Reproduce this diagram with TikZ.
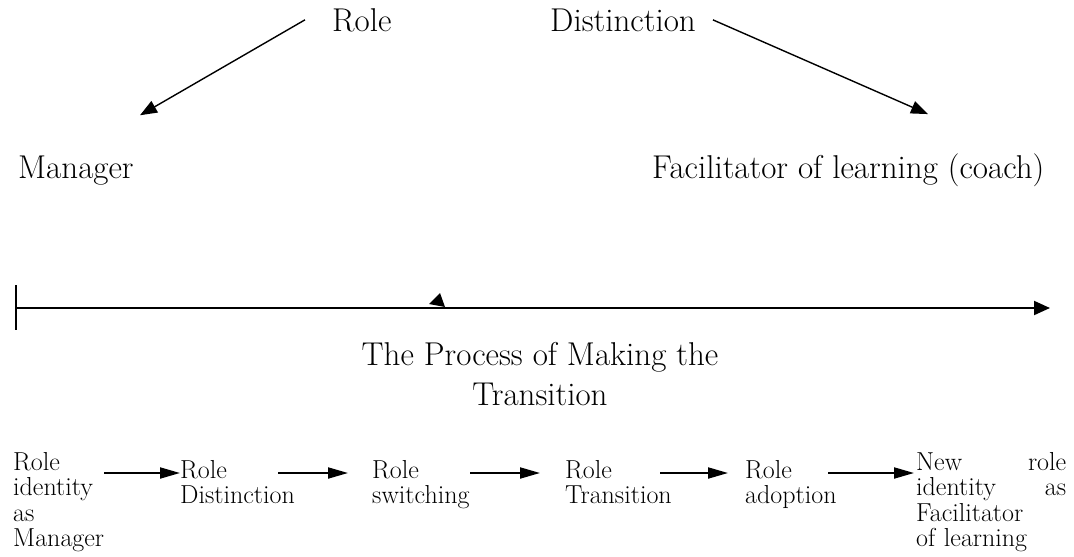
\documentclass[tikz,border=0pt]{standalone}
\usepackage{fontspec}
\usetikzlibrary{arrows.meta}

\begin{document}
\begin{tikzpicture}[x=1pt,y=-1pt]
    \tikzstyle{heading}=[inner sep=0pt,font=\fontsize{33}{40}\selectfont]
    \tikzstyle{stage}=[inner sep=0pt,align=left,anchor=north west,font=\fontsize{26}{25.5}\selectfont]
    \tikzstyle{split}=[draw,line width=1.4pt,-{Triangle[length=17pt,width=13pt]}]
    \tikzstyle{axis}=[draw,line width=2pt,-{Triangle[length=16pt,width=14pt]}]
    \tikzstyle{flow}=[draw,line width=2pt,-{Triangle[length=20pt,width=11pt]}]
    \useasboundingbox (0,0) rectangle (1074,557);
    % the two roles
    \node[heading,anchor=base west] (role) at (332,31) {Role};
    \node[heading,anchor=base west] (dist) at (550,31) {Distinction};
    \node[heading,anchor=base west] (mgr) at (18,178) {Manager};
    \node[heading,anchor=base west] (fac) at (652,178) {Facilitator of learning (coach)};
    \draw[split] ([xshift=-27pt]role.west) -- ([xshift=122pt,yshift=40pt]mgr.north west);
    \draw[split] ([xshift=17pt]dist.east) -- ([xshift=276pt,yshift=39pt]fac.north west);
    % time line
    \coordinate (tstart) at (16,308);
    \coordinate (tend) at (1050,308);
    \draw[axis] (tstart) -- (tend);
    \draw[line width=1.4pt] ([yshift=23pt]tstart) -- ([yshift=-22pt]tstart);
    \fill (440,293) -- (429,304) -- (445,307) -- cycle;
    \node[heading,align=center,anchor=north] (proc) at (540,342) {The Process of Making the\\Transition};
    % stages
    \coordinate (row) at (0,473);
    \node[stage] (asmgr) at (13,452) {Role\\identity\\as\\Manager};
    \node[stage] (rdist) at (180,460) {Role\\Distinction};
    \node[stage] (rswitch) at (372,460) {Role\\switching};
    \node[stage] (rtrans) at (565,460) {Role\\Transition};
    \node[stage] (radopt) at (745,460) {Role\\adoption};
    \node[stage,text width=150pt] (newrole) at (916,452) {New\hfill role\\identity\hfill as\\Facilitator\\of learning};
    \draw[flow] (asmgr.east |- row) -- (rdist.west |- row);
    \draw[flow] ([xshift=98pt]rdist.west |- row) -- ([xshift=-24pt]rswitch.west |- row);
    \draw[flow] ([xshift=98pt]rswitch.west |- row) -- ([xshift=-25pt]rtrans.west |- row);
    \draw[flow] ([xshift=95pt]rtrans.west |- row) -- ([xshift=-17pt]radopt.west |- row);
    \draw[flow] ([xshift=83pt]radopt.west |- row) -- ([xshift=-2pt]newrole.west |- row);
\end{tikzpicture}
\end{document}
